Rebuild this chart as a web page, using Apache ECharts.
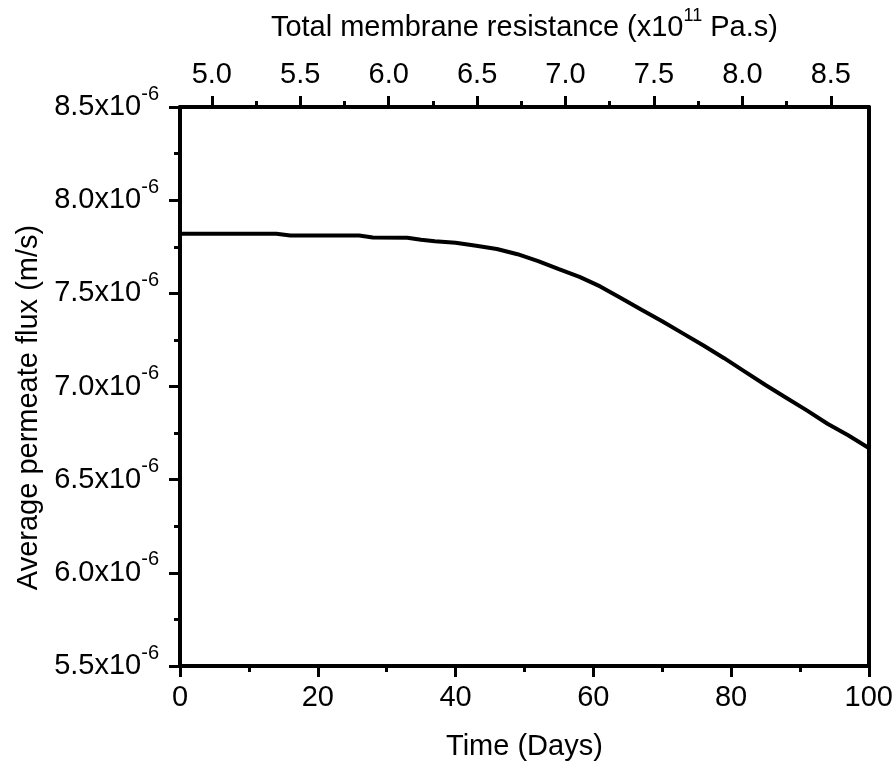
<!DOCTYPE html>
<html>
<head>
<meta charset="utf-8">
<style>
  html, body { margin: 0; padding: 0; background: #ffffff; }
  #chart { width: 896px; height: 766px; }
</style>
<script src="https://cdn.jsdelivr.net/npm/echarts@6/dist/echarts.min.js"></script>
</head>
<body>
<div id="chart"></div>
<script>
// Time on the bottom axis (days)
const days = [0, 14, 16, 26, 28, 33, 35, 37, 40, 43, 46, 49, 52, 55, 58, 61, 64, 67, 70, 73, 76, 79, 82, 85, 88, 91, 94, 97, 100];
// Average permeate flux, in units of 1e-6 m/s
const fluxE6 = [7.820, 7.820, 7.810, 7.810, 7.800, 7.798, 7.788, 7.780, 7.772, 7.755, 7.738, 7.710, 7.673, 7.630, 7.588, 7.537, 7.475, 7.412, 7.350, 7.285, 7.220, 7.152, 7.080, 7.008, 6.940, 6.872, 6.800, 6.738, 6.670];

// Top axis: total membrane resistance (x1e11 Pa.s), range spanned by the time axis
const resistanceRange = [4.82, 8.715];
const resistanceMajorTicks = [5.0, 5.5, 6.0, 6.5, 7.0, 7.5, 8.0, 8.5];
const resistanceMinorTicks = [5.25, 5.75, 6.25, 6.75, 7.25, 7.75, 8.25];

const FONT = 'Liberation Sans, Arial, Helvetica, sans-serif';
const INK = '#000000';
const FS = 29;

const chart = echarts.init(document.getElementById('chart'), null, { renderer: 'canvas' });

const lineStyleAxis = { color: INK, width: 4 };

const option = {
  backgroundColor: '#ffffff',
  animation: false,
  grid: { left: 180, right: 27, top: 107, bottom: 99, containLabel: false },
  xAxis: [
    {
      type: 'value',
      position: 'bottom',
      min: 0, max: 100, interval: 20,
      name: 'Time (Days)',
      nameLocation: 'middle',
      nameGap: 66,
      nameTextStyle: { fontFamily: FONT, fontSize: FS, color: INK },
      axisLine: { show: true, onZero: false, lineStyle: lineStyleAxis },
      axisTick: { show: true, inside: false, length: 11, lineStyle: { color: INK, width: 3 } },
      minorTick: { show: true, splitNumber: 2, length: 6, lineStyle: { color: INK, width: 3 } },
      axisLabel: { show: true, margin: 17, fontFamily: FONT, fontSize: FS, color: INK, showMinLabel: true, showMaxLabel: true, hideOverlap: false },
      splitLine: { show: false },
      minorSplitLine: { show: false }
    },
    {
      type: 'value',
      position: 'top',
      min: resistanceRange[0], max: resistanceRange[1],
      name: '{m|Total membrane resistance (x10}{s|11}{m| Pa.s)}',
      nameLocation: 'middle',
      nameGap: 58,
      nameTextStyle: {
        fontFamily: FONT, color: INK,
        rich: {
          m: { fontFamily: FONT, fontSize: FS, lineHeight: 42, color: INK },
          s: { fontFamily: FONT, fontSize: 18, lineHeight: 18, verticalAlign: 'top', color: INK }
        }
      },
      axisLine: { show: true, onZero: false, lineStyle: lineStyleAxis },
      axisTick: { show: true, inside: false, length: 11, customValues: resistanceMajorTicks, lineStyle: { color: INK, width: 3 } },
      axisLabel: {
        show: true, margin: 18, fontFamily: FONT, fontSize: FS, color: INK,
        customValues: resistanceMajorTicks,
        formatter: v => v.toFixed(1)
      },
      splitLine: { show: false }
    },
    {
      type: 'value',
      position: 'top',
      min: resistanceRange[0], max: resistanceRange[1],
      axisLine: { show: false },
      axisTick: { show: true, inside: false, length: 6, customValues: resistanceMinorTicks, lineStyle: { color: INK, width: 3 } },
      axisLabel: { show: false },
      splitLine: { show: false }
    }
  ],
  yAxis: [
    {
      type: 'value',
      position: 'left',
      min: 5.5, max: 8.5, interval: 0.5,
      name: 'Average permeate flux (m/s)',
      nameLocation: 'middle',
      nameGap: 135,
      nameTextStyle: { fontFamily: FONT, fontSize: FS, color: INK, padding: [0, 42, 0, 0] },
      axisLine: { show: true, onZero: false, lineStyle: lineStyleAxis },
      axisTick: { show: true, inside: false, length: 11, lineStyle: { color: INK, width: 3 } },
      minorTick: { show: true, splitNumber: 2, length: 6, lineStyle: { color: INK, width: 3 } },
      axisLabel: {
        show: true, margin: 21, color: INK, showMinLabel: true, showMaxLabel: true, hideOverlap: false,
        formatter: v => '{m|' + v.toFixed(1) + 'x10}{s|-6}',
        rich: {
          m: { fontFamily: FONT, fontSize: FS, lineHeight: 46, color: INK },
          s: { fontFamily: FONT, fontSize: 20, lineHeight: 20, verticalAlign: 'top', color: INK }
        }
      },
      splitLine: { show: false },
      minorSplitLine: { show: false }
    },
    {
      type: 'value',
      position: 'right',
      min: 5.5, max: 8.5,
      axisLine: { show: true, onZero: false, lineStyle: lineStyleAxis },
      axisTick: { show: false },
      axisLabel: { show: false },
      splitLine: { show: false }
    }
  ],
  series: [
    {
      type: 'line',
      xAxisIndex: 0,
      yAxisIndex: 0,
      data: days.map((d, i) => [d, fluxE6[i]]),
      showSymbol: false,
      symbol: 'none',
      smooth: false,
      clip: true,
      lineStyle: { color: INK, width: 4 },
      z: 3
    }
  ]
};

chart.setOption(option);
</script>
</body>
</html>
